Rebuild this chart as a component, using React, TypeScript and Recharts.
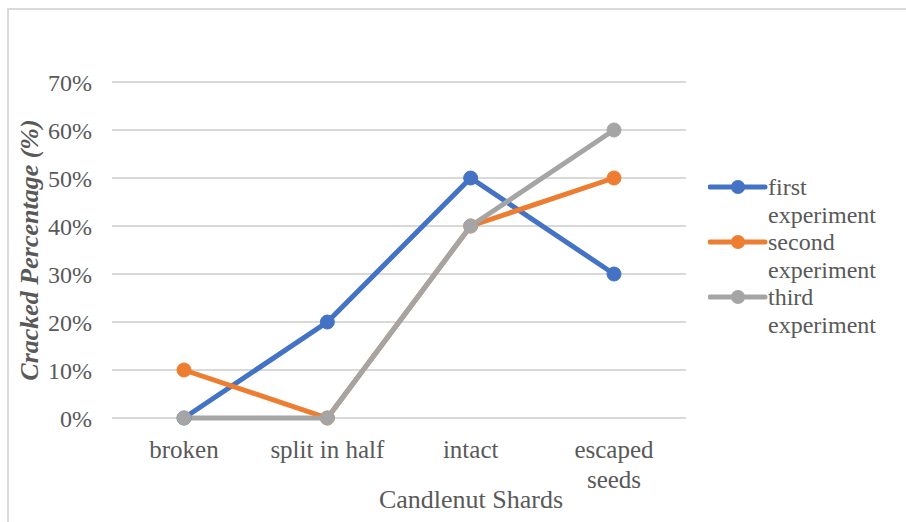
import { CartesianGrid, Line, LineChart, XAxis, YAxis } from "recharts";

const CATEGORIES = ["broken", "split in half", "intact", "escaped\nseeds"];
const FIRST = [0, 20, 50, 30];
const SECOND = [10, 0, 40, 50];
const THIRD = [0, 0, 40, 60];
const Y_TICKS = [0, 10, 20, 30, 40, 50, 60, 70];

const SERIES = [
  { key: "first", label: ["first", "experiment"], color: "#4472C4" },
  { key: "second", label: ["second", "experiment"], color: "#ED7D31" },
  { key: "third", label: ["third", "experiment"], color: "#A5A5A5" },
];

const FONT = "Liberation Serif, Times New Roman, DejaVu Serif, serif";
const TEXT = "#595959";

const data = CATEGORIES.map((name, i) => ({
  name,
  first: FIRST[i],
  second: SECOND[i],
  third: THIRD[i],
}));

function CategoryTick({ x, y, payload }: any) {
  const lines = String(payload.value).split("\n");
  return (
    <text x={x} y={y} textAnchor="middle" fill={TEXT} fontSize={25} fontFamily={FONT}>
      {lines.map((l, i) => (
        <tspan key={l} x={x} dy={i === 0 ? "0.71em" : 30}>
          {l}
        </tspan>
      ))}
    </text>
  );
}

function SeriesLegend() {
  return (
    <div style={{ position: "absolute", left: 708, top: 173, fontFamily: FONT, fontSize: 24, color: TEXT }}>
      {SERIES.map((s) => (
        <div key={s.key} style={{ display: "flex", alignItems: "flex-start", height: 55 }}>
          <svg width={60} height={28} style={{ flex: "none" }}>
            <line x1={2} y1={14} x2={57} y2={14} stroke={s.color} strokeWidth={5} strokeLinecap="round" />
            <circle cx={30} cy={14} r={7} fill={s.color} />
          </svg>
          <div style={{ lineHeight: "28px" }}>
            {s.label.map((l) => (
              <div key={l}>{l}</div>
            ))}
          </div>
        </div>
      ))}
    </div>
  );
}

export default function App() {
  return (
    <div style={{ position: "absolute", left: 0, top: 0, width: 906, height: 522, background: "#fff" }}>
      <div
        style={{
          position: "absolute",
          left: 7,
          top: 8,
          width: 899,
          height: 514,
          borderTop: "2px solid #d9d9d9",
          borderLeft: "2px solid #d9d9d9",
          boxSizing: "border-box",
        }}
      />
      <div style={{ position: "absolute", left: 0, top: 0 }}>
        <LineChart width={906} height={522} data={data} margin={{ top: 82, right: 220, bottom: 44, left: 30 }}>
          <CartesianGrid stroke="#d9d9d9" strokeWidth={2} vertical={false} />
          <XAxis
            dataKey="name"
            axisLine={false}
            tickLine={false}
            tickSize={0}
            tickMargin={22}
            height={60}
            interval={0}
            padding={{ left: 72, right: 72 }}
            tick={<CategoryTick />}
          />
          <YAxis
            domain={[0, 70]}
            ticks={Y_TICKS}
            tickFormatter={(v) => `${v}%`}
            axisLine={false}
            tickLine={false}
            tickSize={0}
            tickMargin={20}
            width={82}
            tick={{ fill: TEXT, fontSize: 24, fontFamily: FONT }}
          />
          {SERIES.map((s) => (
            <Line
              key={s.key}
              dataKey={s.key}
              type="linear"
              stroke={s.color}
              strokeWidth={5}
              dot={{ r: 7, fill: s.color, stroke: s.color, strokeWidth: 1 }}
              activeDot={false}
              isAnimationActive={false}
            />
          ))}
        </LineChart>
      </div>
      <SeriesLegend />
      <div
        style={{
          position: "absolute",
          left: 471,
          top: 500,
          transform: "translate(-50%, -50%)",
          fontFamily: FONT,
          fontSize: 26,
          color: TEXT,
          whiteSpace: "nowrap",
        }}
      >
        Candlenut Shards
      </div>
      <div
        style={{
          position: "absolute",
          left: 30,
          top: 250,
          transform: "translate(-50%, -50%) rotate(-90deg)",
          fontFamily: FONT,
          fontSize: 26,
          fontWeight: "bold",
          fontStyle: "italic",
          color: TEXT,
          whiteSpace: "nowrap",
        }}
      >
        Cracked Percentage (%)
      </div>
    </div>
  );
}
